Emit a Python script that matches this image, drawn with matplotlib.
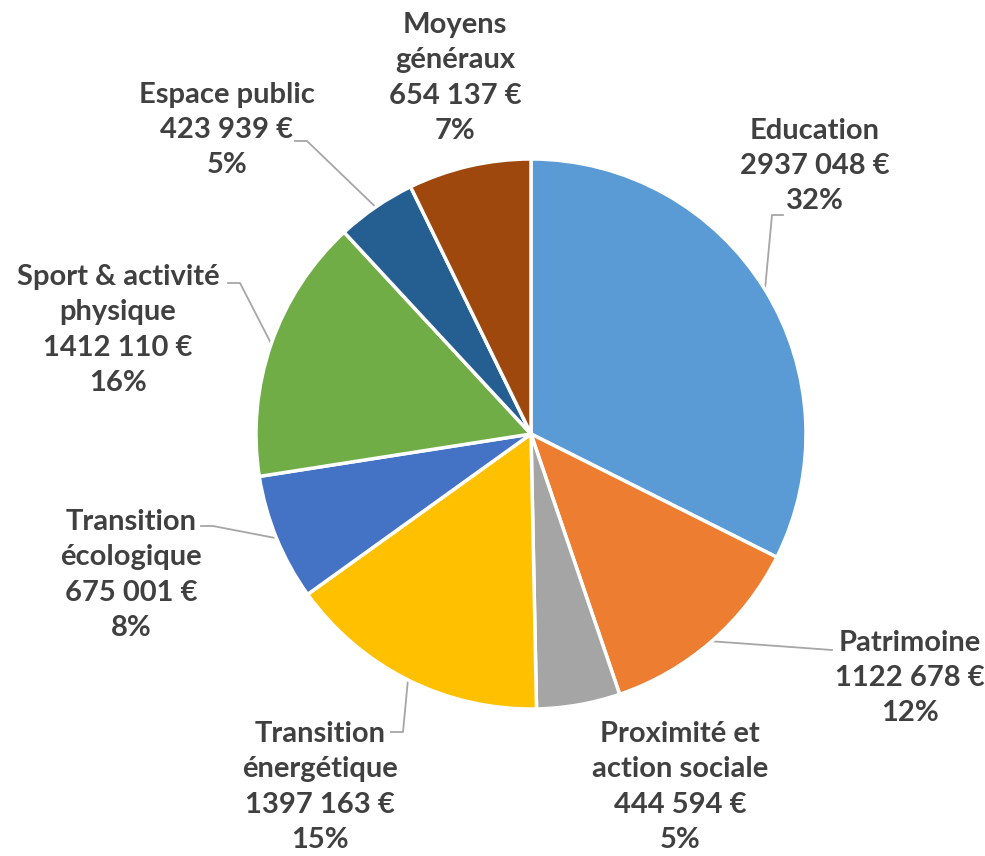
import numpy as np
import matplotlib.pyplot as plt

categories = ["Education", "Patrimoine", "Proximité et\naction sociale",
              "Transition\nénergétique", "Transition\nécologique",
              "Sport & activité\nphysique", "Espace public", "Moyens\ngénéraux"]
amounts = [2937048, 1122678, 444594, 1397163, 675001, 1412110, 423939, 654137]
percents = [32, 12, 5, 15, 8, 16, 5, 7]
colors = ["#5B9BD5", "#ED7D31", "#A5A5A5", "#FFC000", "#4472C4",
          "#70AD47", "#255E91", "#9E480E"]

W, H = 985, 856
fig = plt.figure(figsize=(W / 100, H / 100), dpi=100)
ax = fig.add_axes([0, 0, 1, 1])

cx, cy, r = 531, H - 434, 275
wedges, _ = ax.pie(amounts, colors=colors, startangle=90, counterclock=False,
                   center=(cx, cy), radius=r, frame=True,
                   wedgeprops=dict(edgecolor='white', linewidth=2.5))
ax.set_xlim(0, W)
ax.set_ylim(0, H)
ax.set_aspect('equal')
ax.axis('off')

def fmt(v):
    return "%d %03d €" % (v // 1000, v % 1000)

# label centre (px from top-left), leader points (px)
label_pos = [(815, 166), (910, 678), (680, 787), (320, 787),
             (131, 575), (118, 330), (227, 130), (455, 78)]
leaders = {
    0: [(772, 215), (783, 215)],
    1: [(832, 650)],
    3: [(403, 732), (391, 732)],
    4: [(213, 526), (201, 526)],
    5: [(240, 283), (228, 283)],
    6: [(307, 141), (295, 141)],
}

for i, w in enumerate(wedges):
    txt = "%s\n%s\n%d%%" % (categories[i], fmt(amounts[i]), percents[i])
    x, y = label_pos[i]
    ax.text(x, H - y, txt, ha='center', va='center', fontsize=21,
            fontweight='bold', family='Lato', color='#404040',
            linespacing=1.45)
    if i in leaders:
        ang = np.deg2rad((w.theta1 + w.theta2) / 2)
        sx, sy = cx + r * np.cos(ang), cy + r * np.sin(ang)
        pts = [(sx, sy)] + [(px, H - py) for px, py in leaders[i]]
        xs, ys = zip(*pts)
        ax.plot(xs, ys, color='#A6A6A6', linewidth=1.3, zorder=0)

fig.savefig("out.png", dpi=100)
